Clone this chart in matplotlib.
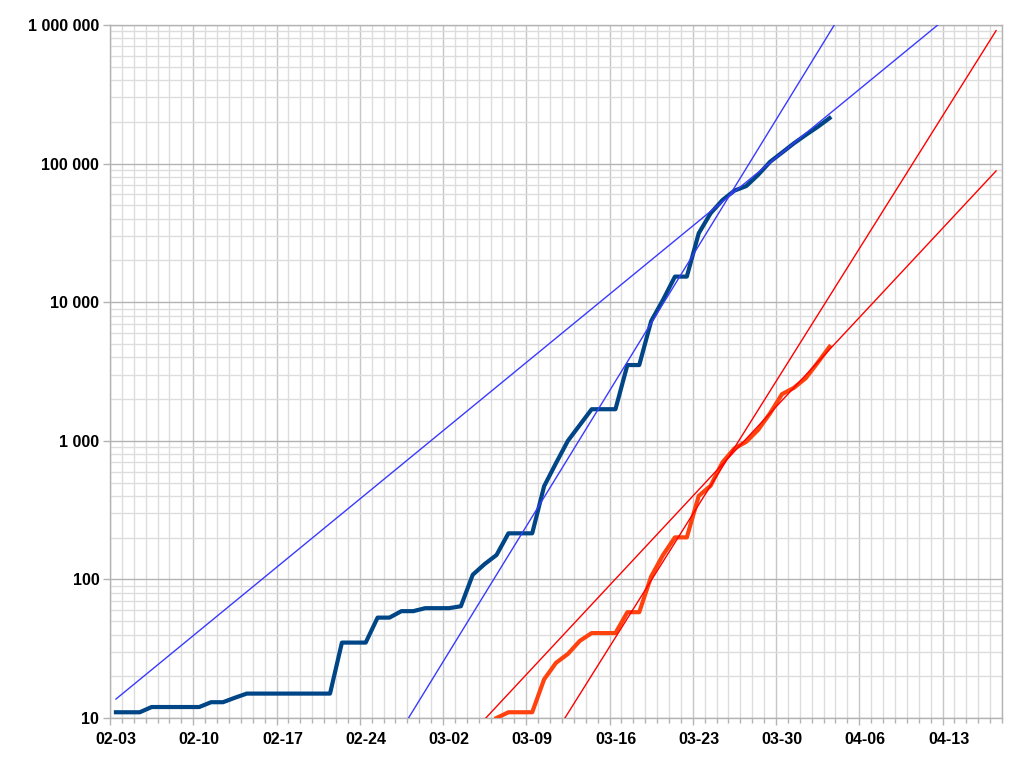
import numpy as np
import pandas as pd
import matplotlib
matplotlib.use('Agg')
import matplotlib.pyplot as plt
import matplotlib.dates as mdates
import matplotlib.transforms as mtransforms
from matplotlib.ticker import FixedLocator, FuncFormatter, NullFormatter

plt.rcParams['font.family'] = ['Liberation Sans', 'DejaVu Sans']

# cumulative cases, one value per day from 02-03
cases = [11, 11, 11, 12, 12, 12, 12, 12, 13, 13,
         14, 15, 15, 15, 15, 15, 15, 15, 15, 35,
         35, 35, 53, 53, 59, 59, 62, 62, 62, 64,
         108, 129, 150, 215, 215, 215, 470, 690, 1000, 1300,
         1690, 1690, 1690, 3520, 3520, 7300, 10400, 15300, 15300, 31400,
         43800, 54600, 63800, 68900, 83000, 103000, 120000, 140000, 161000, 184000,
         213000]
cases_start = '2020-02-03'

# cumulative deaths, one value per day from 03-06
deaths = [10, 11, 11, 11, 19, 25, 29, 36, 41, 41,
          41, 58, 58, 105, 150, 201, 201, 400, 474, 700,
          880, 985, 1200, 1580, 2170, 2410, 2830, 3660, 4770]
deaths_start = '2020-03-06'

# exponential trend lines: days after 02-03 and values at both visible ends
cases_trend_days = [[0.0, 69.1], [24.6, 60.4]]
cases_trend_values = [[13.7, 1000000], [10, 1000000]]
deaths_trend_days = [[31.1, 74.0], [37.75, 74.0]]
deaths_trend_values = [[10, 88500], [10, 910000]]

x_start = '2020-02-03'
x_end = '2020-04-18'

half_day = pd.Timedelta(hours=12)
t0 = pd.Timestamp(x_start)

fig = plt.figure(figsize=(10.24, 7.67), dpi=100)
ax = fig.add_axes([110 / 1024, 1 - 718 / 767, 892 / 1024, 693 / 767])

cases_dates = pd.date_range(cases_start, periods=len(cases)) + half_day
deaths_dates = pd.date_range(deaths_start, periods=len(deaths)) + half_day

ax.plot(cases_dates, cases, color='#004586', lw=3.0, zorder=3)
ax.plot(deaths_dates, deaths, color='#ff420e', lw=3.0, zorder=3)

for days, vals in zip(cases_trend_days, cases_trend_values):
    xs = [t0 + pd.to_timedelta(d, 'D') + half_day for d in days]
    ax.plot(xs, vals, color='#3a3aff', lw=1.0, zorder=4)
for days, vals in zip(deaths_trend_days, deaths_trend_values):
    xs = [t0 + pd.to_timedelta(d, 'D') + half_day for d in days]
    ax.plot(xs, vals, color='#ff0000', lw=1.0, zorder=4)

ax.set_yscale('log')
ax.set_ylim(10, 1000000)
ax.set_xlim(mdates.date2num(pd.Timestamp(x_start)), mdates.date2num(pd.Timestamp(x_end)))

# weekly labels, daily minor ticks
weeks = mdates.date2num(pd.date_range(x_start, x_end, freq='7D'))
days_all = mdates.date2num(pd.date_range(x_start, x_end, freq='D'))
ax.xaxis.set_major_locator(FixedLocator(weeks))
ax.xaxis.set_minor_locator(FixedLocator(days_all))
ax.xaxis.set_major_formatter(mdates.DateFormatter('%m-%d'))
ax.xaxis.set_minor_formatter(NullFormatter())

ax.yaxis.set_major_locator(FixedLocator([10, 100, 1000, 10000, 100000, 1000000]))
ax.yaxis.set_minor_locator(matplotlib.ticker.LogLocator(base=10, subs=np.arange(2, 10)))
ax.yaxis.set_major_formatter(FuncFormatter(lambda v, p: f'{int(round(v)):,}'.replace(',', ' ')))
ax.yaxis.set_minor_formatter(NullFormatter())

ax.grid(axis='y', which='major', color='#b3b3b3', lw=1.0)
ax.grid(axis='y', which='minor', color='#dddddd', lw=1.0)
ax.grid(axis='x', which='major', color='#c6c6c6', lw=1.0)
ax.grid(axis='x', which='minor', color='#dddddd', lw=1.0)
ax.set_axisbelow(True)

for s in ax.spines.values():
    s.set_color('#b3b3b3')
    s.set_linewidth(1.0)

ax.tick_params(axis='x', which='major', length=5, width=1, color='#b3b3b3',
               labelsize=11.5, pad=5)
ax.tick_params(axis='x', which='minor', length=3.3, width=1, color='#b3b3b3')
ax.tick_params(axis='y', which='major', length=5, width=1, color='#b3b3b3',
               labelsize=11.5, pad=2.7)
ax.tick_params(axis='y', which='minor', length=0)

for lab in ax.get_yticklabels():
    lab.set_fontweight('bold')

# labels sit at mid-day, half a day right of the tick mark
shift = mtransforms.ScaledTranslation(6 / 100, 0, fig.dpi_scale_trans)
for lab in ax.get_xticklabels():
    lab.set_transform(lab.get_transform() + shift)
    lab.set_fontweight('bold')

fig.savefig('out.png', dpi=100)
